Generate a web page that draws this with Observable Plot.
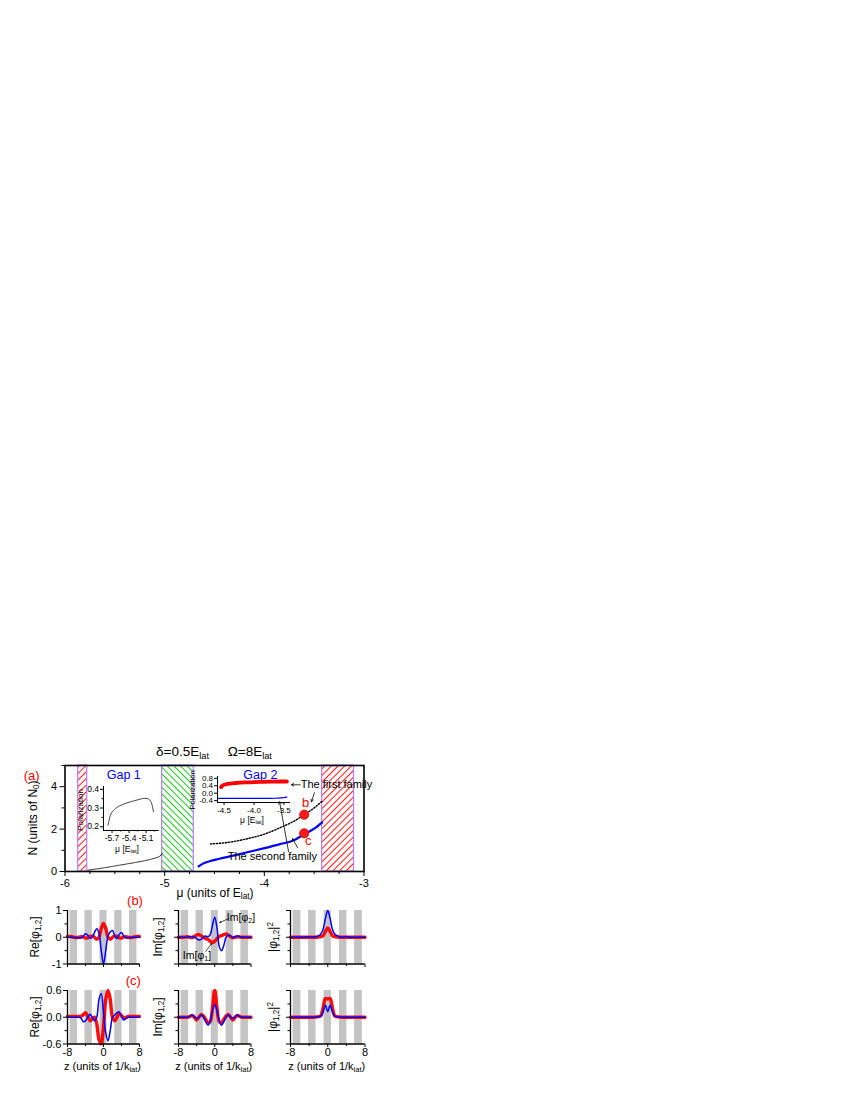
<!DOCTYPE html>
<html><head><meta charset="utf-8">
<script src="https://cdn.jsdelivr.net/npm/d3@7"></script>
<script src="https://cdn.jsdelivr.net/npm/@observablehq/plot@0.6"></script>
<style>
body{margin:0;background:#fff;font-family:"Liberation Sans",Arial,sans-serif;}
#fig{position:relative;width:850px;height:1100px;overflow:hidden;}
.lbl{position:absolute;white-space:nowrap;line-height:1;}
.lbl sub{font-size:0.68em;vertical-align:-0.3em;line-height:0;}
.lbl sup{font-size:0.68em;vertical-align:0.45em;line-height:0;}
</style></head><body><div id="fig"></div>
<script>
// ---------------- Panel (a) data ----------------
const gap1Mu = [-5.77, -5.7, -5.6, -5.5, -5.4, -5.3, -5.2, -5.1, -5.05, -5.02];
const gap1N  = [0.06, 0.11, 0.18, 0.26, 0.34, 0.42, 0.51, 0.63, 0.72, 0.86];
const fam1Mu = [-4.54, -4.45, -4.3, -4.15, -4.0, -3.85, -3.7, -3.6, -3.5, -3.42];
const fam1N  = [1.30, 1.33, 1.42, 1.57, 1.76, 2.05, 2.38, 2.68, 3.0, 3.32];
const fam2Mu = [-4.66, -4.62, -4.55, -4.45, -4.3, -4.15, -4.0, -3.85, -3.7, -3.6, -3.5, -3.42];
const fam2N  = [0.24, 0.36, 0.48, 0.60, 0.76, 0.93, 1.10, 1.28, 1.48, 1.76, 2.02, 2.32];
const dotMu = [-3.6, -3.6];
const dotN = [2.68, 1.80];
const bandLo = [-5.868, -5.025, -3.42];
const bandHi = [-5.777, -4.708, -3.10];
const bandColor = ["#ff2020", "#22cc22", "#ff2020"];
const bandAngle = [45, -45, 45];
// inset 1 (gap 1 polarization)
const pol1Mu = [-5.77, -5.73, -5.64, -5.54, -5.44, -5.32, -5.21, -5.12, -5.07, -5.01, -4.97];
const pol1   = [0.208, 0.26, 0.297, 0.315, 0.327, 0.338, 0.347, 0.352, 0.35, 0.33, 0.28];
// inset 2 (gap 2 polarization)
const pol2RedMu = [-4.55, -4.52, -4.47, -4.4, -4.3, -4.15, -4.0, -3.85, -3.7, -3.55, -3.45];
const pol2Red   = [0.33, 0.42, 0.48, 0.52, 0.55, 0.58, 0.60, 0.61, 0.62, 0.63, 0.63];
const pol2BlueMu = [-4.6, -4.3, -4.0, -3.8, -3.65, -3.55, -3.45];
const pol2Blue   = [-0.28, -0.28, -0.28, -0.28, -0.27, -0.25, -0.21];

// ---------------- Panels (b),(c) data ----------------
const zs = [-8,-7.5,-7,-6.5,-6,-5.5,-5,-4.5,-4,-3.5,-3,-2.5,-2,-1.5,-1,-0.5,0,0.5,1,1.5,2,2.5,3,3.5,4,4.5,5,5.5,6,6.5,7,7.5,8];
const stripeLo = [-7.43, -4.12, -0.78, 2.5, 5.77];
const stripeHi = [-5.77, -2.5, 0.78, 4.12, 7.43];
// (b)
const bRe1 = [0.03,0.03,0.02,0.0,-0.02,0.0,0.02,0.01,-0.03,-0.02,0.03,0.05,0.0,-0.08,0.0,0.33,0.52,0.33,0.0,-0.08,0.0,0.05,0.03,-0.02,-0.03,0.01,0.02,0.0,-0.02,0.0,0.02,0.03,0.03];
const bRe2 = [0,0,0,-0.01,-0.02,-0.02,-0.03,0.04,0.13,0.07,-0.04,0.0,0.18,0.32,0.15,-0.5,-1.0,-0.5,0.05,0.2,0.25,0.05,-0.05,0.1,0.18,0.05,-0.02,-0.02,-0.01,0,0,0,0];
const bIm1 = [0,0,0,0.01,0.02,0,-0.02,0.03,0.08,0.1,0.06,0.0,-0.05,-0.08,-0.15,-0.2,-0.15,-0.05,0.03,0.06,0.1,0.12,0.08,0.02,-0.02,0.0,0.02,0.01,0,0,0,0,0];
const bIm2 = [0,0,0,0,0,0.02,0.03,0,-0.05,-0.1,-0.08,0,0.05,0.02,0.1,0.45,0.75,0.35,-0.35,-0.5,-0.3,0,0.08,0.05,-0.02,0.02,0.05,0.03,0,0,0,0,0];
const bAbs1 = [0,0,0,0,0,0,0,0,0,0,0,0,0.01,0.02,0.06,0.22,0.35,0.22,0.06,0.02,0.01,0,0,0,0,0,0,0,0,0,0,0,0];
const bAbs2 = [0,0,0,0,0,0,0,0.01,0.02,0.01,0,0.02,0.05,0.12,0.3,0.7,1.0,0.7,0.3,0.12,0.06,0.02,0,0.01,0.03,0.01,0,0,0,0,0,0,0];
// (c)
const cRe1 = [0.02,0.02,0.02,0.02,0.02,0.02,0.02,0.06,0.1,0.02,-0.08,-0.04,0,-0.15,-0.5,-0.6,-0.2,0.4,0.6,0.4,0,-0.08,0,0.08,0.04,-0.02,0,0.02,0.02,0.02,0.02,0.02,0.02];
const cRe2 = [0,0,0,0,0,0,-0.02,-0.1,-0.08,0,0.07,0,-0.08,0,0.4,0.53,0.1,-0.35,-0.53,-0.3,0,0.05,0.1,0.12,0.02,-0.06,-0.03,0,0,0,0,0,0];
const cIm1 = [0,0,0,0,0,0.02,0.04,0,-0.06,0,0.06,0.03,-0.05,-0.12,-0.1,0.2,0.6,0.2,-0.1,-0.12,-0.05,0.03,0.06,0,-0.06,0,0.04,0.02,0,0,0,0,0];
const cIm2 = [0,0,0,0,0,0.02,0.05,0.01,-0.03,0,0.05,0,-0.1,-0.18,-0.08,0.15,0.28,0.15,-0.08,-0.18,-0.1,0,0.05,0,-0.03,0.01,0.05,0.02,0,0,0,0,0];
const cAbs1 = [0,0,0,0,0,0,0,0,0,0,0,0.01,0.02,0.05,0.35,0.7,0.68,0.7,0.35,0.05,0.02,0.01,0,0,0,0,0,0,0,0,0,0,0];
const cAbs2 = [0,0,0,0,0,0,0,0,0,0,0,0.01,0.02,0.04,0.2,0.45,0.21,0.45,0.2,0.04,0.02,0.01,0,0,0,0,0,0,0,0,0,0,0];

// ---------------- helpers ----------------
const fig = document.getElementById("fig");
const FONT = "Liberation Sans, Arial, sans-serif";
function place(el, left, top) {
  el.style.position = "absolute"; el.style.left = left + "px"; el.style.top = top + "px";
  fig.appendChild(el);
}
function label(html, cx, cy, {size = 12, color = "#000", rotate = 0} = {}) {
  const d = document.createElement("div");
  d.className = "lbl"; d.innerHTML = html;
  d.style.left = cx + "px"; d.style.top = cy + "px";
  d.style.fontSize = size + "px"; d.style.color = color;
  d.style.transform = `translate(-50%,-50%) rotate(${rotate}deg)`;
  fig.appendChild(d);
}
const pts = (xs, ys) => xs.map((x, i) => ({x, y: ys[i]}));
const baseStyle = (fs) => ({fontFamily: FONT, fontSize: fs + "px", color: "black", background: "transparent", overflow: "visible"});

// ---------------- Panel (a) ----------------
{
  const L = 64.5, R = 363.5, T = 765, B = 871, sx = 20, sy = 755, w = 360, h = 150;
  const bandMarks = bandLo.map((lo, i) => Plot.rect([{lo, hi: bandHi[i]}], {
    x1: "lo", x2: "hi", y1: 0, y2: 5, fill: `url(#hatch${i})`, stroke: "#b77cff", strokeWidth: 1.2
  }));
  const svg = Plot.plot({
    width: w, height: h,
    marginLeft: L - sx, marginRight: sx + w - R, marginTop: T - sy, marginBottom: sy + h - B,
    x: {domain: [-6, -3]}, y: {domain: [0, 5]},
    style: baseStyle(11),
    marks: [
      ...bandMarks,
      Plot.line(pts(gap1Mu, gap1N), {x: "x", y: "y", stroke: "#222", strokeWidth: 1, strokeDasharray: "1,0.8", curve: "monotone-x"}),
      Plot.line(pts(fam1Mu, fam1N), {x: "x", y: "y", stroke: "#000", strokeWidth: 1.4, strokeDasharray: "1.3,1.7", curve: "monotone-x"}),
      Plot.line(pts(fam2Mu, fam2N), {x: "x", y: "y", stroke: "#0000ff", strokeWidth: 2.2, curve: "monotone-x"}),
      Plot.dot(pts(dotMu, dotN), {x: "x", y: "y", r: 4.6, fill: "#ff1a1a", stroke: "#d00000", strokeWidth: 0.8}),
      Plot.text(["b", "c"], {x: [-3.585, -3.56], y: [3.26, 1.47], text: d => d, fill: "#ff0000", fontSize: 13}),
      Plot.text(["Gap 1", "Gap 2"], {x: [-5.41, -4.04], y: [4.55, 4.55], text: d => d, fill: "#0000ff", fontSize: 12.5}),
      Plot.text(["The first family"], {x: [-3.635], y: [4.09], text: d => d, textAnchor: "start", fontSize: 11, fill: "#000"}),
      Plot.text(["The second family"], {x: [-3.92], y: [0.72], text: d => d, fontSize: 11, fill: "#000"}),
      Plot.arrow([0, 1, 2, 3], {
        x1: [-3.64, -3.497, -3.667, -3.757], y1: [4.09, 3.72, 1.13, 0.94],
        x2: [-3.728, -3.527, -3.717, -3.847], y2: [4.09, 3.29, 1.55, 3.29],
        stroke: "#000", strokeWidth: 0.8, headLength: 5
      }),
      Plot.frame({stroke: "#000", strokeWidth: 1.6}),
      Plot.axisX({ticks: [-6, -5, -4, -3], tickSize: 5, tickPadding: 3, tickFormat: d => String(d), label: null}),
      Plot.axisX({ticks: [-5.75,-5.5,-5.25,-4.75,-4.5,-4.25,-3.75,-3.5,-3.25], tickSize: 3, fill: "none", label: null}),
      Plot.axisY({ticks: [0, 2, 4], tickSize: 5, tickPadding: 3, tickFormat: d => String(d), label: null}),
      Plot.axisY({ticks: [1, 3, 5], tickSize: 3, fill: "none", label: null})
    ]
  });
  const defs = d3.select(svg).insert("defs", ":first-child");
  bandColor.forEach((c, i) => {
    const s = 4.7;
    const p = defs.append("pattern").attr("id", "hatch" + i).attr("patternUnits", "userSpaceOnUse")
      .attr("width", s).attr("height", s).attr("patternTransform", `rotate(${bandAngle[i]})`);
    p.append("rect").attr("width", s).attr("height", s).attr("fill", "white");
    p.append("line").attr("x1", s / 2).attr("x2", s / 2).attr("y1", -1).attr("y2", s + 1)
      .attr("stroke", c).attr("stroke-width", 1.1);
  });
  place(svg, sx, sy);
}

// ---------------- Inset 1 ----------------
{
  const L = 103.3, R = 159, T = 786, B = 830, mL = 22, mR = 6, mT = 5, mB = 16;
  const dom = [[-5.85, -4.87], [0.18, 0.415]];
  const svg = Plot.plot({
    width: R - L + mL + mR, height: B - T + mT + mB,
    marginLeft: mL, marginRight: mR, marginTop: mT, marginBottom: mB,
    x: {domain: dom[0]}, y: {domain: dom[1]},
    style: baseStyle(8.5),
    marks: [
      Plot.line(pts(pol1Mu, pol1), {x: "x", y: "y", stroke: "#333", strokeWidth: 0.9, curve: "monotone-x"}),
      Plot.ruleX([dom[0][0]], {stroke: "#000", strokeWidth: 1}),
      Plot.ruleY([dom[1][0]], {stroke: "#000", strokeWidth: 1}),
      Plot.axisX({ticks: [-5.7, -5.4, -5.1], tickSize: 3, tickPadding: 1.5, tickFormat: d => d.toFixed(1), label: null}),
      Plot.axisX({ticks: [-5.55, -5.25, -4.95], tickSize: 1.5, fill: "none", label: null}),
      Plot.axisY({ticks: [0.2, 0.3, 0.4], tickSize: 3, tickPadding: 1.5, tickFormat: d => d.toFixed(1), label: null}),
      Plot.axisY({ticks: [0.25, 0.35], tickSize: 1.5, fill: "none", label: null})
    ]
  });
  place(svg, L - mL, T - mT);
}

// ---------------- Inset 2 ----------------
{
  const L = 217, R = 290, T = 776, B = 802, mL = 22, mR = 6, mT = 5, mB = 16;
  const dom = [[-4.61, -3.39], [-0.5, 0.9]];
  const svg = Plot.plot({
    width: R - L + mL + mR, height: B - T + mT + mB,
    marginLeft: mL, marginRight: mR, marginTop: mT, marginBottom: mB,
    x: {domain: dom[0]}, y: {domain: dom[1]},
    style: baseStyle(8),
    marks: [
      Plot.line(pts(pol2RedMu, pol2Red), {x: "x", y: "y", stroke: "#ff0000", strokeWidth: 3.8, curve: "monotone-x", strokeLinecap: "round"}),
      Plot.line(pts(pol2BlueMu, pol2Blue), {x: "x", y: "y", stroke: "#0000ff", strokeWidth: 1.1, curve: "monotone-x"}),
      Plot.ruleX([dom[0][0]], {stroke: "#000", strokeWidth: 1}),
      Plot.ruleY([dom[1][0]], {stroke: "#000", strokeWidth: 1}),
      Plot.axisX({ticks: [-4.5, -4.0, -3.5], tickSize: 3, tickPadding: 1.5, tickFormat: d => d.toFixed(1), label: null}),
      Plot.axisY({ticks: [0.8, 0.4, 0.0, -0.4], tickSize: 3, tickPadding: 1.5, tickFormat: d => d.toFixed(1), label: null})
    ]
  });
  place(svg, L - mL, T - mT);
}

// ---------------- Small panels ----------------
function smallPanel({L, R, T, B, ydom, yMajor, yMinor, yFmt, xLabels, red, blue, extra = []}) {
  const mL = 40, mR = 8, mT = 6, mB = 20;
  const stripes = stripeLo.map((lo, i) => ({lo, hi: stripeHi[i]}));
  const svg = Plot.plot({
    width: R - L + mL + mR, height: B - T + mT + mB,
    marginLeft: mL, marginRight: mR, marginTop: mT, marginBottom: mB,
    x: {domain: [-8, 8]}, y: {domain: ydom},
    style: baseStyle(11),
    marks: [
      Plot.rect(stripes, {x1: "lo", x2: "hi", y1: ydom[0], y2: ydom[1], fill: "#c4c4c4"}),
      Plot.line(pts(zs, red), {x: "x", y: "y", stroke: "#ff0000", strokeWidth: 3.4, curve: "catmull-rom", strokeOpacity: 0.95}),
      Plot.line(pts(zs, blue), {x: "x", y: "y", stroke: "#0000ff", strokeWidth: 1.5, curve: "catmull-rom"}),
      ...extra,
      Plot.ruleX([-8], {stroke: "#000", strokeWidth: 1.3}),
      Plot.ruleY([ydom[0]], {stroke: "#000", strokeWidth: 1.3}),
      Plot.axisX({ticks: [-8, 0, 8], tickSize: 3.5, tickPadding: 0.5, tickFormat: d => xLabels ? String(d) : "", label: null}),
      Plot.axisX({ticks: [-4, 4], tickSize: 2.5, fill: "none", label: null}),
      Plot.axisY({ticks: yMajor, tickSize: 4, tickPadding: 2, tickFormat: d => yFmt ? yFmt(d) : "", label: null}),
      Plot.axisY({ticks: yMinor, tickSize: 2.5, fill: "none", label: null})
    ]
  });
  place(svg, L - mL, T - mT);
}
const cols = [[66.5, 138.5], [177.5, 250], [289.5, 364]];
const rowB = [910, 963.5], rowC = [990, 1043.5];
const f0 = d => String(d), f1 = d => d.toFixed(1);
smallPanel({L: cols[0][0], R: cols[0][1], T: rowB[0], B: rowB[1], ydom: [-1, 1], yMajor: [-1, 0, 1], yMinor: [-0.5, 0.5], yFmt: f0, xLabels: false, red: bRe1, blue: bRe2});
smallPanel({L: cols[1][0], R: cols[1][1], T: rowB[0], B: rowB[1], ydom: [-1, 1], yMajor: [-1, 0, 1], yMinor: [-0.5, 0.5], yFmt: null, xLabels: false, red: bIm1, blue: bIm2,
  extra: [Plot.arrow([0, 1], {x1: [3.1, -2.0], y1: [0.7, -0.53], x2: [1.1, -0.66], y2: [0.55, -0.23], stroke: "#000", strokeWidth: 0.7, headLength: 3})]});
smallPanel({L: cols[2][0], R: cols[2][1], T: rowB[0], B: rowB[1], ydom: [-1, 1], yMajor: [-1, 0, 1], yMinor: [-0.5, 0.5], yFmt: null, xLabels: false, red: bAbs1, blue: bAbs2});
smallPanel({L: cols[0][0], R: cols[0][1], T: rowC[0], B: rowC[1], ydom: [-0.6, 0.6], yMajor: [-0.6, 0, 0.6], yMinor: [-0.3, 0.3], yFmt: f1, xLabels: true, red: cRe1, blue: cRe2});
smallPanel({L: cols[1][0], R: cols[1][1], T: rowC[0], B: rowC[1], ydom: [-0.6, 0.6], yMajor: [-0.6, 0, 0.6], yMinor: [-0.3, 0.3], yFmt: null, xLabels: true, red: cIm1, blue: cIm2});
smallPanel({L: cols[2][0], R: cols[2][1], T: rowC[0], B: rowC[1], ydom: [-1, 1], yMajor: [-1, 0, 1], yMinor: [-0.5, 0.5], yFmt: null, xLabels: true, red: cAbs1, blue: cAbs2});

// ---------------- Text labels ----------------
label("δ=0.5E<sub>lat</sub>&nbsp;&nbsp;&nbsp;&nbsp;&nbsp;Ω=8E<sub>lat</sub>", 214, 751.5, {size: 13.5});
label("(a)", 31.7, 775, {size: 13, color: "#ff0000"});
label("N (units of N<sub>0</sub>)", 33, 818, {size: 12, rotate: -90});
label("μ (units of E<sub>lat</sub>)", 215, 893, {size: 12});
label("Polarization", 80.7, 810, {size: 8, rotate: -90});
label("μ [E<sub>lat</sub>]", 127, 849, {size: 8.5});
label("Polarization", 193, 790, {size: 7.5, rotate: -90});
label("μ [E<sub>lat</sub>]", 252, 820, {size: 8.5});
label("(b)", 135, 900, {size: 13, color: "#ff0000"});
label("(c)", 133.3, 980, {size: 13, color: "#ff0000"});
[936.7, 1016.7].forEach(y => {
  label("Re[φ<sub>1,2</sub>]", 35, y, {size: 12, rotate: -90});
  label("Im[φ<sub>1,2</sub>]", 158.3, y, {size: 12, rotate: -90});
  label("|φ<sub>1,2</sub>|<sup>2</sup>", 273.3, y, {size: 12, rotate: -90});
});
label("Im[φ<sub>2</sub>]", 241, 917, {size: 10.5});
label("Im[φ<sub>1</sub>]", 197, 955, {size: 10.5});
[102.5, 213.7, 326.7].forEach(x => label("z (units of 1/k<sub>lat</sub>)", x, 1066, {size: 11}));
</script></body></html>
